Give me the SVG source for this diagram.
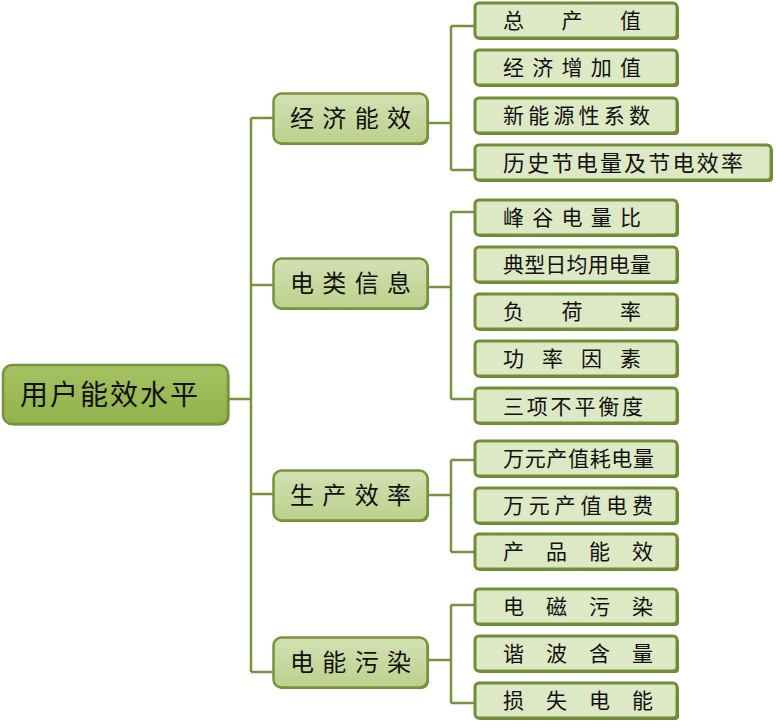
<svg xmlns="http://www.w3.org/2000/svg" width="776" height="728" viewBox="0 0 776 728">
<defs>
<linearGradient id="g1" x1="0" y1="0" x2="0" y2="1">
<stop offset="0" stop-color="#d3e1b3"/>
<stop offset="1" stop-color="#bcd08c"/>
</linearGradient>
<linearGradient id="g0" x1="0" y1="0" x2="0" y2="1">
<stop offset="0" stop-color="#a6c263"/>
<stop offset="1" stop-color="#91b24b"/>
</linearGradient>
</defs>
<style>
.c{fill:none;stroke:#77933c;stroke-width:2.5}
.sh{fill:#6d8837}
.leaf{fill:#dde8c4;stroke:#718d36;stroke-width:3}
.l1{fill:url(#g1);stroke:#77933c;stroke-width:2.5}
.root{fill:url(#g0);stroke:#77933c;stroke-width:2.5}
text{font-family:"Noto Sans CJK SC","Noto Sans CJK JP",sans-serif;fill:#111}
.t0{font-size:28px}
.t1{font-size:24px}
.t2{font-size:21px}
</style>
<rect width="776" height="728" fill="#fff"/>
<g id="connectors">
<path class="c" d="M228,399H251M251,118V672M251,118H274M251,285H274M251,494H274M251,672H274"/>
<path class="c" d="M427,123H451M451,26V170M451,26H475M451,170H475"/>
<path class="c" d="M427,287H451M451,212V399M451,212H475M451,399H475"/>
<path class="c" d="M427,495H451M451,460V552M451,460H475M451,552H475"/>
<path class="c" d="M427,660H451M451,605V703M451,605H475M451,703H475"/>
</g>
<g id="root">
<rect x="4.5" y="366.5" width="225" height="59" rx="9" class="sh"/>
<rect x="3" y="365" width="225" height="59" rx="9" class="root"/>
<text x="20" y="405" class="t0" textLength="178" lengthAdjust="spacing">用户能效水平</text>
</g>
<g id="n1">
<rect x="275" y="95" width="154" height="50" rx="8" class="sh"/>
<rect x="273.5" y="93.5" width="154" height="50" rx="8" class="l1"/>
<text x="290" y="127" class="t1" textLength="121" lengthAdjust="spacing">经济能效</text>
</g>
<g id="n2">
<rect x="275" y="260" width="154" height="50" rx="8" class="sh"/>
<rect x="273.5" y="258.5" width="154" height="50" rx="8" class="l1"/>
<text x="290" y="292" class="t1" textLength="121" lengthAdjust="spacing">电类信息</text>
</g>
<g id="n3">
<rect x="275" y="472" width="154" height="50" rx="8" class="sh"/>
<rect x="273.5" y="470.5" width="154" height="50" rx="8" class="l1"/>
<text x="290" y="504" class="t1" textLength="121" lengthAdjust="spacing">生产效率</text>
</g>
<g id="n4">
<rect x="275" y="639" width="154" height="50" rx="8" class="sh"/>
<rect x="273.5" y="637.5" width="154" height="50" rx="8" class="l1"/>
<text x="290" y="671" class="t1" textLength="121" lengthAdjust="spacing">电能污染</text>
</g>
<g id="l1"><rect x="477" y="5" width="202" height="35" rx="4" class="sh"/><rect x="475" y="3" width="202" height="35" rx="4" class="leaf"/><text x="503" y="28" class="t2" textLength="138" lengthAdjust="spacing">总产值</text></g>
<g id="l2"><rect x="477" y="52" width="202" height="35" rx="4" class="sh"/><rect x="475" y="50" width="202" height="35" rx="4" class="leaf"/><text x="503" y="75" class="t2" textLength="138" lengthAdjust="spacing">经济增加值</text></g>
<g id="l3"><rect x="477" y="100" width="202" height="35" rx="4" class="sh"/><rect x="475" y="98" width="202" height="35" rx="4" class="leaf"/><text x="503" y="123" class="t2" textLength="147" lengthAdjust="spacing">新能源性系数</text></g>
<g id="l4"><rect x="477" y="147" width="296" height="35" rx="4" class="sh"/><rect x="475" y="145" width="296" height="35" rx="4" class="leaf"/><text x="503" y="171" class="t2" style="font-size:22px" textLength="240" lengthAdjust="spacing">历史节电量及节电效率</text></g>
<g id="l5"><rect x="477" y="202" width="202" height="35" rx="4" class="sh"/><rect x="475" y="200" width="202" height="35" rx="4" class="leaf"/><text x="503" y="225" class="t2" textLength="138" lengthAdjust="spacing">峰谷电量比</text></g>
<g id="l6"><rect x="477" y="249" width="202" height="35" rx="4" class="sh"/><rect x="475" y="247" width="202" height="35" rx="4" class="leaf"/><text x="503" y="272" class="t2" textLength="148" lengthAdjust="spacing">典型日均用电量</text></g>
<g id="l7"><rect x="477" y="296" width="202" height="35" rx="4" class="sh"/><rect x="475" y="294" width="202" height="35" rx="4" class="leaf"/><text x="503" y="319" class="t2" textLength="138" lengthAdjust="spacing">负荷率</text></g>
<g id="l8"><rect x="477" y="343" width="202" height="35" rx="4" class="sh"/><rect x="475" y="341" width="202" height="35" rx="4" class="leaf"/><text x="503" y="366" class="t2" textLength="138" lengthAdjust="spacing">功率因素</text></g>
<g id="l9"><rect x="477" y="390" width="202" height="35" rx="4" class="sh"/><rect x="475" y="388" width="202" height="35" rx="4" class="leaf"/><text x="503" y="414" class="t2" textLength="140" lengthAdjust="spacing">三项不平衡度</text></g>
<g id="l10"><rect x="477" y="443" width="202" height="35" rx="4" class="sh"/><rect x="475" y="441" width="202" height="35" rx="4" class="leaf"/><text x="503" y="466" class="t2" textLength="151" lengthAdjust="spacing">万元产值耗电量</text></g>
<g id="l11"><rect x="477" y="490" width="202" height="35" rx="4" class="sh"/><rect x="475" y="488" width="202" height="35" rx="4" class="leaf"/><text x="503" y="513" class="t2" textLength="150" lengthAdjust="spacing">万元产值电费</text></g>
<g id="l12"><rect x="477" y="536" width="202" height="35" rx="4" class="sh"/><rect x="475" y="534" width="202" height="35" rx="4" class="leaf"/><text x="503" y="559" class="t2" textLength="150" lengthAdjust="spacing">产品能效</text></g>
<g id="l13"><rect x="477" y="591" width="202" height="35" rx="4" class="sh"/><rect x="475" y="589" width="202" height="35" rx="4" class="leaf"/><text x="503" y="614" class="t2" textLength="150" lengthAdjust="spacing">电磁污染</text></g>
<g id="l14"><rect x="477" y="638" width="202" height="35" rx="4" class="sh"/><rect x="475" y="636" width="202" height="35" rx="4" class="leaf"/><text x="503" y="661" class="t2" textLength="150" lengthAdjust="spacing">谐波含量</text></g>
<g id="l15"><rect x="477" y="685" width="202" height="35" rx="4" class="sh"/><rect x="475" y="683" width="202" height="35" rx="4" class="leaf"/><text x="503" y="708" class="t2" textLength="150" lengthAdjust="spacing">损失电能</text></g>
</svg>
